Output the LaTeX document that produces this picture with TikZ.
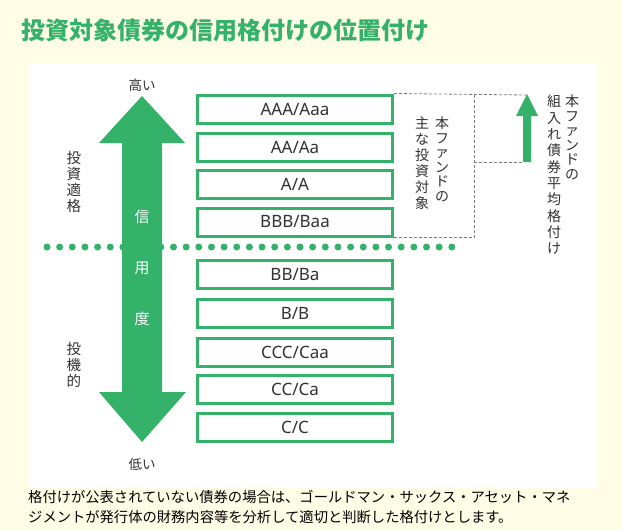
\documentclass[tikz,border=0pt]{standalone}
\usepackage{fontspec}
\setmainfont{Noto Sans CJK JP}
\newfontfamily\latinfont{Noto Sans}
\definecolor{bgyellow}{RGB}{255,253,230}
\definecolor{rgreen}{RGB}{52,178,106}
\definecolor{tgray}{RGB}{50,50,50}
\definecolor{dgray}{RGB}{125,125,125}
\begin{document}
\begin{tikzpicture}[x=1pt,y=-1pt,
  rbox/.style={draw=rgreen,line width=3pt,fill=white,minimum width=195pt,minimum height=28pt,inner sep=0pt,text=tgray,font=\latinfont\fontsize{17}{17}\selectfont},
  dashline/.style={draw=dgray,line width=0.8pt,dash pattern=on 3pt off 2pt},
  dotline/.style={draw=rgreen,line width=7pt,line cap=round,dash pattern=on 0pt off 12.65pt},
  vlab/.style={align=center,inner sep=0pt,text=tgray},
  arrtext/.style={text=white,inner sep=0pt,font=\fontsize{15}{15}\selectfont}]
\useasboundingbox (0,0) rectangle (622,530);
\fill[bgyellow] (0,0) rectangle (622,530);
\fill[white] (29,63) rectangle (598,487);
\node[anchor=west,inner sep=0pt,text=rgreen,font=\bfseries\fontsize{24}{24}\selectfont] (title) at (21,30) {投資対象債券の信用格付けの位置付け};
% dotted divider
\draw[dotline] (47,247) -- (452,247);
% big credit arrow
\fill[rgreen] (142,96) -- (185,143) -- (162,143) -- (162,392) -- (186,392) -- (142,442) -- (99,392) -- (122,392) -- (122,143) -- (99,143) -- cycle;
\node[arrtext] (c1) at (142,217) {信};
\node[arrtext] (c2) at (142,268) {用};
\node[arrtext] (c3) at (142,319) {度};
\node[text=tgray,inner sep=0pt,font=\fontsize{13.5}{13.5}\selectfont] (high) at (142,85) {高い};
\node[text=tgray,inner sep=0pt,font=\fontsize{13.5}{13.5}\selectfont] (low) at (142,464) {低い};
\node[vlab,font=\fontsize{14.5}{16}\selectfont] (inv) at (74,182) {投\\資\\適\\格};
\node[vlab,font=\fontsize{14.5}{16}\selectfont] (spec) at (74,365) {投\\機\\的};
% rating boxes
\node[rbox] (r1) at (295,109) {AAA/Aaa};
\node[rbox] (r2) at (295,147) {AA/Aa};
\node[rbox] (r3) at (295,184.5) {A/A};
\node[rbox] (r4) at (295,222) {BBB/Baa};
\node[rbox] (r5) at (295,274.5) {BB/Ba};
\node[rbox] (r6) at (295,313) {B/B};
\node[rbox] (r7) at (295,352) {CCC/Caa};
\node[rbox] (r8) at (295,389) {CC/Ca};
\node[rbox] (r9) at (295,427) {C/C};
% small average arrow
\coordinate (tip) at (527,95);
\coordinate (sabl) at (523,162);
\coordinate (cx) at (474,0);
\fill[rgreen] (527,94) -- (538,116) -- (531,116) -- (531,162) -- (523,162) -- (523,116) -- (516,116) -- cycle;
% dashed brackets
\draw[dashline] (r1.north east) -- (tip);
\draw[dashline] (r4.south east) -| (cx |- r1.north east);
\draw[dashline] (cx |- sabl) -- (sabl);
% vertical labels
\node[vlab,anchor=north,font=\fontsize{14}{14.5}\selectfont] (m1) at (442,117) {本\\フ\\ァ\\ン\\ド\\の};
\node[vlab,anchor=north,font=\fontsize{14}{16}\selectfont] (m2) at (422,117) {主\\な\\投\\資\\対\\象};
\node[vlab,anchor=north,font=\fontsize{14}{14.5}\selectfont] (a1) at (572,95) {本\\フ\\ァ\\ン\\ド\\の};
\node[vlab,anchor=north,font=\fontsize{14}{16.3}\selectfont] (a2) at (554,95) {組\\入\\れ\\債\\券\\平\\均\\格\\付\\け};
% note
\node[anchor=west,align=left,inner sep=0pt,text=black,font=\fontsize{14.3}{20}\selectfont] (note) at (28,507) {格付けが公表されていない債券の場合は、ゴールドマン・サックス・アセット・マネ\\ジメントが発行体の財務内容等を分析して適切と判断した格付けとします。};
\end{tikzpicture}
\end{document}
